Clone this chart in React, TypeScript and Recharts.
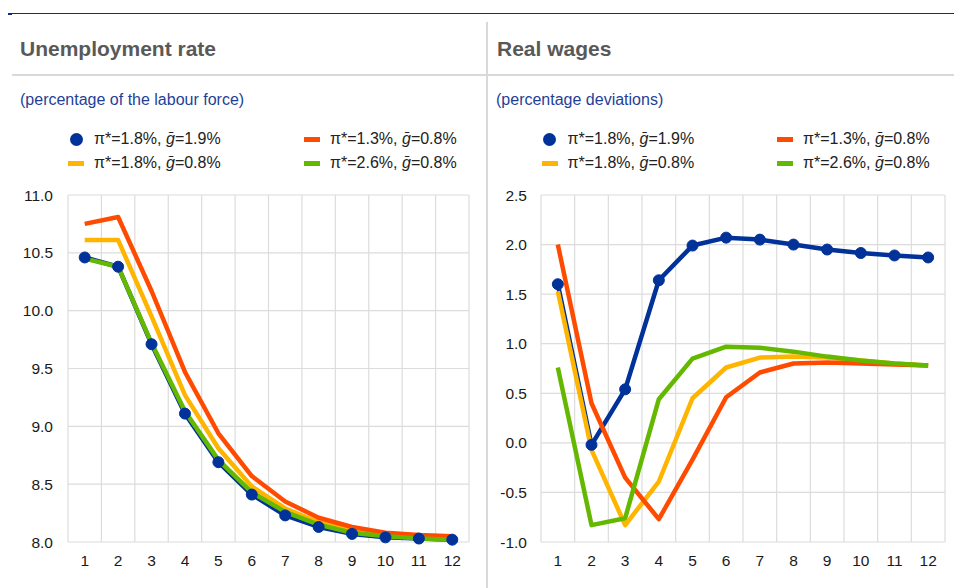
import React from "react";
import { LineChart, Line, XAxis, YAxis, CartesianGrid } from "recharts";

const periods = [1, 2, 3, 4, 5, 6, 7, 8, 9, 10, 11, 12];

const seriesNames = [
  { key: "blue", pi: "1.8%", g: "1.9%" },
  { key: "red", pi: "1.3%", g: "0.8%" },
  { key: "yellow", pi: "1.8%", g: "0.8%" },
  { key: "green", pi: "2.6%", g: "0.8%" },
];

const colors: Record<string, string> = {
  blue: "#003299",
  red: "#FF4B00",
  yellow: "#FFB400",
  green: "#65B800",
};

const unempBlue = [10.46, 10.38, 9.71, 9.11, 8.69, 8.41, 8.23, 8.13, 8.07, 8.04, 8.03, 8.02];
const unempYellow = [10.61, 10.61, 9.95, 9.27, 8.81, 8.48, 8.29, 8.17, 8.1, 8.06, 8.04, 8.03];
const unempRed = [10.75, 10.81, 10.17, 9.47, 8.94, 8.57, 8.35, 8.21, 8.13, 8.08, 8.06, 8.05];
const unempGreen = [10.45, 10.38, 9.72, 9.13, 8.71, 8.43, 8.26, 8.15, 8.08, 8.05, 8.03, 8.02];

const wagesBlue = [1.6, -0.02, 0.54, 1.64, 1.99, 2.07, 2.05, 2.0, 1.95, 1.915, 1.89, 1.87];
const wagesYellow = [1.53, -0.07, -0.83, -0.39, 0.45, 0.76, 0.86, 0.87, 0.86, 0.83, 0.8, 0.78];
const wagesRed = [2.0, 0.4, -0.35, -0.77, -0.17, 0.46, 0.71, 0.8, 0.81, 0.8, 0.79, 0.78];
const wagesGreen = [0.76, -0.83, -0.76, 0.44, 0.85, 0.97, 0.96, 0.92, 0.87, 0.83, 0.8, 0.78];

const unempTicks = [8.0, 8.5, 9.0, 9.5, 10.0, 10.5, 11.0];
const wagesTicks = [-1.0, -0.5, 0.0, 0.5, 1.0, 1.5, 2.0, 2.5];

const unempData = periods.map((p, i) => ({
  period: p,
  blue: unempBlue[i],
  yellow: unempYellow[i],
  red: unempRed[i],
  green: unempGreen[i],
}));

const wagesData = periods.map((p, i) => ({
  period: p,
  blue: wagesBlue[i],
  yellow: wagesYellow[i],
  red: wagesRed[i],
  green: wagesGreen[i],
}));

const FONT = "Arial, 'Liberation Sans', sans-serif";

const boundaryGen = (props: any) => {
  const off = props.offset || {};
  const left = off.left ?? 0;
  const width = off.width ?? 0;
  const out: number[] = [];
  for (let i = 0; i <= 12; i++) out.push(left + (i * width) / 12);
  return out;
};

function Chart({
  data,
  ticks,
  width,
  yWidth,
  tickMargin,
  marginRight,
}: {
  data: any[];
  ticks: number[];
  width: number;
  yWidth: number;
  tickMargin: number;
  marginRight: number;
}) {
  const order = ["blue", "yellow", "red", "green"];
  return (
    <LineChart
      width={width}
      height={408}
      data={data}
      margin={{ top: 15, right: marginRight, bottom: 16, left: 0 }}
    >
      <CartesianGrid
        stroke="#dcdcdc"
        strokeWidth={1.2}
        verticalCoordinatesGenerator={boundaryGen}
      />
      <XAxis
        dataKey="period"
        type="number"
        domain={[0.5, 12.5]}
        ticks={periods}
        axisLine={false}
        tickLine={false}
        tickSize={6}
        tickMargin={7}
        height={30}
        tick={{ fill: "#1a1a1a", fontSize: 15.5, fontFamily: FONT }}
        interval={0}
      />
      <YAxis
        type="number"
        domain={[ticks[0], ticks[ticks.length - 1]]}
        ticks={ticks}
        width={yWidth}
        axisLine={false}
        tickLine={false}
        tickSize={6}
        tickMargin={tickMargin}
        tickFormatter={(v: number) => v.toFixed(1)}
        tick={{ fill: "#1a1a1a", fontSize: 15.5, fontFamily: FONT }}
        interval={0}
      />
      {order.map((k) => (
        <Line
          key={k}
          dataKey={k}
          type="linear"
          stroke={colors[k]}
          strokeWidth={4.5}
          strokeLinejoin="round"
          dot={k === "blue" ? { r: 5.5, fill: colors.blue, stroke: colors.blue, strokeWidth: 1 } : false}
          activeDot={false}
          isAnimationActive={false}
        />
      ))}
    </LineChart>
  );
}

function LegendLabel({ pi, g }: { pi: string; g: string }) {
  return (
    <span>
      π*={pi}, <span style={{ fontStyle: "italic" }}>ḡ</span>={g}
    </span>
  );
}

function Legend({ x1, x2 }: { x1: number; x2: number }) {
  const rows = [
    { y: 139, items: [seriesNames[0], seriesNames[1]] },
    { y: 163, items: [seriesNames[2], seriesNames[3]] },
  ];
  return (
    <>
      {rows.map((row, ri) =>
        row.items.map((s, ci) => {
          const markerLeft = ci === 0 ? x1 - 8 : x2;
          const textLeft = markerLeft + 26;
          return (
            <React.Fragment key={`${ri}-${ci}`}>
              {s.key === "blue" ? (
                <div
                  style={{
                    position: "absolute",
                    left: markerLeft + 1.5,
                    top: row.y - 6.5,
                    width: 13,
                    height: 13,
                    borderRadius: "50%",
                    background: colors[s.key],
                  }}
                />
              ) : (
                <div
                  style={{
                    position: "absolute",
                    left: markerLeft,
                    top: row.y - 2.5,
                    width: 16,
                    height: 5,
                    background: colors[s.key],
                  }}
                />
              )}
              <div
                style={{
                  position: "absolute",
                  left: textLeft,
                  top: row.y - 10,
                  height: 20,
                  lineHeight: "20px",
                  fontSize: 16,
                  fontFamily: FONT,
                  color: "#222",
                  whiteSpace: "nowrap",
                }}
              >
                <LegendLabel pi={s.pi} g={s.g} />
              </div>
            </React.Fragment>
          );
        })
      )}
    </>
  );
}

export default function App() {
  return (
    <div
      style={{
        position: "absolute",
        left: 0,
        top: 0,
        width: 954,
        height: 588,
        background: "#fff",
        fontFamily: FONT,
        overflow: "hidden",
      }}
    >
      <div style={{ position: "absolute", left: 8, top: 13, width: 946, height: 1, background: "#0b2d86" }} />
      <div style={{ position: "absolute", left: 8, top: 13, width: 4, height: 2, background: "#0b2d86" }} />
      <div style={{ position: "absolute", left: 486, top: 22, width: 2, height: 566, background: "#d9d9d9" }} />
      <div style={{ position: "absolute", left: 12, top: 73.5, width: 942, height: 2, background: "#d9d9d9" }} />

      <div
        style={{
          position: "absolute",
          left: 20,
          top: 36,
          fontSize: 21,
          lineHeight: "26px",
          fontWeight: "bold",
          color: "#595959",
          whiteSpace: "nowrap",
        }}
      >
        Unemployment rate
      </div>
      <div
        style={{
          position: "absolute",
          left: 497,
          top: 36,
          fontSize: 21,
          lineHeight: "26px",
          fontWeight: "bold",
          color: "#595959",
          whiteSpace: "nowrap",
        }}
      >
        Real wages
      </div>

      <div
        style={{
          position: "absolute",
          left: 20,
          top: 90,
          fontSize: 16,
          lineHeight: "20px",
          color: "#1f3f99",
          whiteSpace: "nowrap",
        }}
      >
        (percentage of the labour force)
      </div>
      <div
        style={{
          position: "absolute",
          left: 496,
          top: 90,
          fontSize: 16,
          lineHeight: "20px",
          color: "#1f3f99",
          whiteSpace: "nowrap",
        }}
      >
        (percentage deviations)
      </div>

      <Legend x1={76} x2={304} />
      <Legend x1={549.5} x2={777} />

      <div style={{ position: "absolute", left: 0, top: 180 }}>
        <Chart data={unempData} ticks={unempTicks} width={480} yWidth={68} tickMargin={9} marginRight={11} />
      </div>
      <div style={{ position: "absolute", left: 480, top: 180 }}>
        <Chart data={wagesData} ticks={wagesTicks} width={474} yWidth={61} tickMargin={8} marginRight={9} />
      </div>
    </div>
  );
}
